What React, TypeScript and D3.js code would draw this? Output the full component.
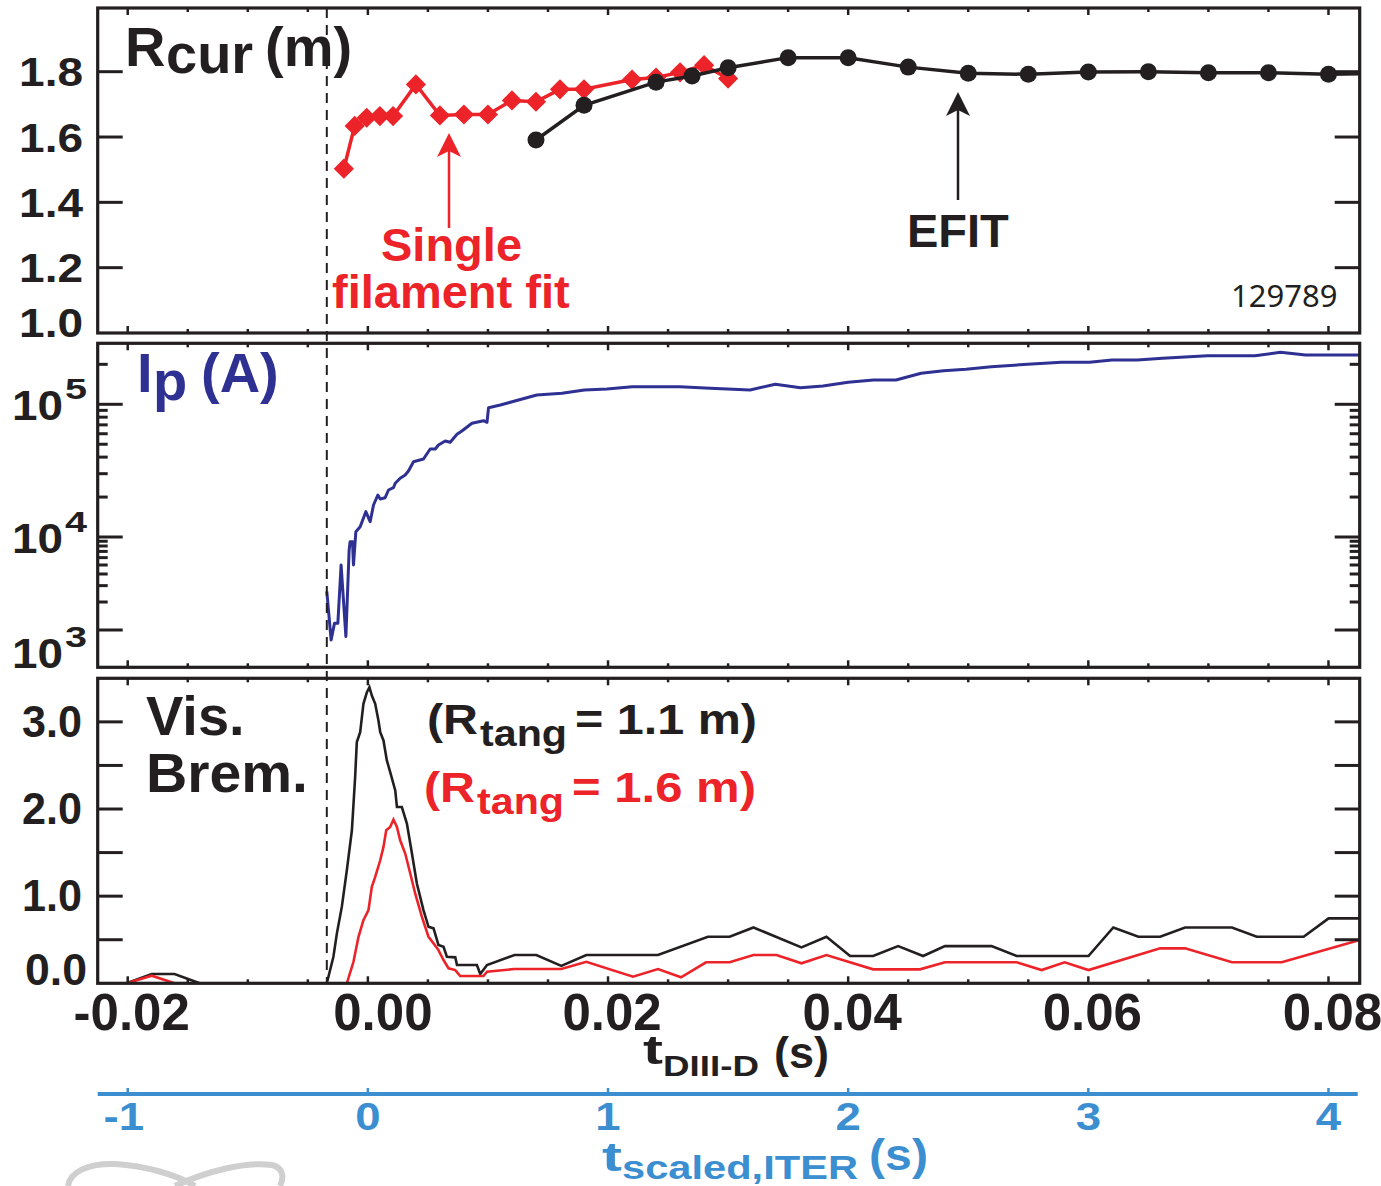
import React from "react";
import * as d3 from "d3";

// ---- data (shot 129789) ----
const tRange = [-0.0225, 0.0826];
const tDashed = -0.00342;

// R_cur from EFIT (black) and single filament fit (red)
const efitT = [0.014, 0.018, 0.024, 0.027, 0.03, 0.035, 0.04, 0.045, 0.05, 0.055, 0.06, 0.065, 0.07, 0.075, 0.08, 0.085];
const efitR = [1.591, 1.697, 1.768, 1.787, 1.812, 1.843, 1.843, 1.814, 1.795, 1.792, 1.799, 1.8, 1.797, 1.797, 1.792, 1.795];
const filT = [-0.002, -0.0011, -0.0001, 0.001, 0.0021, 0.004, 0.006, 0.008, 0.01, 0.012, 0.014, 0.016, 0.018, 0.022, 0.024, 0.026, 0.028, 0.03];
const filR = [1.503, 1.634, 1.659, 1.664, 1.664, 1.761, 1.666, 1.669, 1.669, 1.712, 1.708, 1.746, 1.746, 1.776, 1.782, 1.798, 1.82, 1.779];

// plasma current Ip (A)
const ipT = [
  -0.00342, -0.00306, -0.00278, -0.0025, -0.00223, -0.00183, -0.00156, -0.00148, -0.00128, -0.0012,
  -0.001, -0.00064, -0.00017, 0.00019, 0.00047, 0.00083, 0.00103, 0.00144, 0.00172, 0.00213,
  0.00228, 0.00269, 0.00311, 0.00338, 0.0038, 0.00463, 0.00519, 0.00561, 0.00588, 0.00644,
  0.00686, 0.00742, 0.00783, 0.00867, 0.00963, 0.00992, 0.01005, 0.01103, 0.01407, 0.01617,
  0.01803, 0.01991, 0.02201, 0.02598, 0.0285, 0.03183, 0.03393, 0.03603, 0.0379, 0.04,
  0.04211, 0.04398, 0.04608, 0.04794, 0.04982, 0.05192, 0.05494, 0.05777, 0.0601, 0.06197,
  0.06408, 0.06618, 0.06992, 0.07388, 0.076, 0.07809, 0.0826,
];
const ipA = [
  2600, 780, 1180, 1180, 5000, 850, 7250, 8900, 8900, 5000,
  10960, 11960, 15520, 13040, 17420, 20720, 19330, 19770, 22600, 23520,
  25400, 27700, 29310, 31440, 36940, 38700, 46030, 46030, 49340, 52900,
  51710, 59400, 62900, 71900, 75230, 73160, 94270, 98800, 117500, 121000,
  128200, 130400, 135700, 135700, 132000, 128200, 141500, 133400, 137400, 146500,
  152400, 152400, 171300, 179200, 183600, 192000, 200200, 207300, 207300, 215700,
  215700, 222200, 232400, 232400, 246500, 235200, 235200,
];

// visible bremsstrahlung, R_tang = 1.1 m (black) and 1.6 m (red)
const brem11T = [
  -0.0225, -0.0201, -0.018, -0.0161, -0.014, -0.00342, -0.00287, -0.00258, -0.00217, -0.00175,
  -0.00133, -0.00106, -0.00092, -0.00064, -0.00037, -0.00008, 0.00013, 0.00033, 0.00061, 0.00088,
  0.00103, 0.0013, 0.00158, 0.00186, 0.00228, 0.00242, 0.00283, 0.00325, 0.00367, 0.00408,
  0.00463, 0.00505, 0.00547, 0.00588, 0.0063, 0.00658, 0.00728, 0.00742, 0.00908, 0.00936,
  0.00992, 0.01221, 0.01403, 0.01611, 0.01819, 0.02416, 0.02832, 0.03013, 0.03211, 0.03611,
  0.03819, 0.04016, 0.04208, 0.04416, 0.04624, 0.04806, 0.05194, 0.05403, 0.06001, 0.06208,
  0.06417, 0.06598, 0.06806, 0.07196, 0.07403, 0.07793, 0.08001, 0.0826,
];
const brem11 = [
  0, 0, 0.107, 0.107, 0, 0, 0.305, 0.573, 0.877, 1.298,
  1.756, 2.367, 2.768, 2.882, 3.207, 3.34, 3.397, 3.302, 3.207, 3.016,
  2.882, 2.787, 2.558, 2.424, 2.214, 2.023, 2.023, 1.833, 1.489, 1.145,
  0.84, 0.648, 0.63, 0.439, 0.419, 0.305, 0.298, 0.21, 0.21, 0.107,
  0.21, 0.324, 0.324, 0.2, 0.324, 0.324, 0.534, 0.534, 0.641, 0.412,
  0.534, 0.313, 0.313, 0.427, 0.313, 0.427, 0.427, 0.313, 0.313, 0.641,
  0.534, 0.534, 0.641, 0.641, 0.534, 0.534, 0.745, 0.745,
];
const brem16T = [
  -0.0225, -0.0201, -0.018, -0.0161, -0.00175, -0.0012, -0.00078, -0.00037, 0.00005, 0.00033,
  0.00061, 0.00103, 0.0013, 0.00153, 0.00186, 0.00213, 0.00242, 0.00269, 0.00311, 0.00353,
  0.00394, 0.0045, 0.00505, 0.00547, 0.00588, 0.0063, 0.00672, 0.00728, 0.00769, 0.00963,
  0.00992, 0.01221, 0.01611, 0.01819, 0.02208, 0.02416, 0.02608, 0.02816, 0.03013, 0.03211,
  0.03403, 0.03611, 0.03819, 0.04208, 0.04598, 0.04806, 0.05403, 0.05611, 0.05803, 0.06001,
  0.06598, 0.06806, 0.07196, 0.07611, 0.0826,
];
const brem16 = [
  0, 0, 0.087, 0, 0, 0.247, 0.534, 0.725, 0.84, 1.107,
  1.221, 1.412, 1.565, 1.756, 1.794, 1.879, 1.794, 1.641, 1.489, 1.26,
  1.031, 0.763, 0.534, 0.458, 0.381, 0.267, 0.172, 0.152, 0.084, 0.084,
  0.133, 0.164, 0.164, 0.247, 0.076, 0.164, 0.069, 0.241, 0.241, 0.324,
  0.324, 0.229, 0.324, 0.16, 0.16, 0.241, 0.241, 0.152, 0.241, 0.152,
  0.401, 0.401, 0.241, 0.241, 0.496,
];

// tick values
const tMajor = [-0.02, 0, 0.02, 0.04, 0.06, 0.08];
const tLabels = ["-0.02", "0.00", "0.02", "0.04", "0.06", "0.08"];
const iterTicks = [-1, 0, 1, 2, 3, 4];
const rTicks = [1.0, 1.2, 1.4, 1.6, 1.8];
const ipMajor = [1e3, 1e4, 1e5];
const ipSup = ["3", "4", "5"];
const ipMinor = [2e3, 3e3, 4e3, 5e3, 6e3, 7e3, 8e3, 9e3, 2e4, 3e4, 4e4, 5e4, 6e4, 7e4, 8e4, 9e4, 2e5];
const bremTicks = [0.5, 1.0, 1.5, 2.0, 2.5, 3.0];
const bremLabels = [0, 1, 2, 3];

// ---- layout ----
const W = 1381;
const H = 1186;
const X0 = 97.7;
const X1 = 1359.7;
const P1 = [8, 333];
const P2 = [343.3, 667.3];
const P3 = [678.3, 983.3];

const INK = "#231f20";
const RED = "#ec2329";
const BLUE = "#2e3192";
const SKY = "#3b8ed0";
const FONT = "'Liberation Sans', Arial, Helvetica, sans-serif";

const x = d3.scaleLinear().domain(tRange).range([X0, X1]);
const xIter = d3.scaleLinear().domain(tRange.map((d) => d * 50)).range([X0, X1]);
const yR = d3.scaleLinear().domain([1.0, 1.995]).range([P1[1], P1[0]]);
const yIp = d3.scaleLog().domain([397, 1e3, 1e4, 1e5, 2.88e5]).range([P2[1], 630, 537, 404.3, P2[0]]);
const yB = d3.scaleLinear().domain([0, 3.5]).range([P3[1], P3[0]]);

const minorT = x.ticks(20);
const isMajor = (v: number) => Math.abs(Math.round(v / 0.02) * 0.02 - v) < 1e-9;

function XTicks({ top, bottom }: { top: number; bottom: number }) {
  return (
    <g stroke={INK} strokeWidth={2.5}>
      {minorT.map((v, i) => {
        const len = isMajor(v) ? 7 : 4;
        return (
          <g key={i}>
            <line x1={x(v)} x2={x(v)} y1={top} y2={top + len} />
            <line x1={x(v)} x2={x(v)} y1={bottom} y2={bottom - len} />
          </g>
        );
      })}
    </g>
  );
}

function YTicks({ ys, len }: { ys: number[]; len: number }) {
  return (
    <g stroke={INK} strokeWidth={3}>
      {ys.map((y, i) => (
        <g key={i}>
          <line x1={X0} x2={X0 + len} y1={y} y2={y} />
          <line x1={X1} x2={X1 - len} y1={y} y2={y} />
        </g>
      ))}
    </g>
  );
}

function Frame({ p }: { p: number[] }) {
  return <rect x={X0} y={p[0]} width={X1 - X0} height={p[1] - p[0]} fill="none" stroke={INK} strokeWidth={3.2} />;
}

function Arrow({ ax, tip, tail, color }: { ax: number; tip: number; tail: number; color: string }) {
  return (
    <g>
      <line x1={ax} x2={ax} y1={tip + 14} y2={tail} stroke={color} strokeWidth={2.5} />
      <path d={`M${ax},${tip} L${ax - 12},${tip + 24} L${ax},${tip + 18} L${ax + 12},${tip + 24} Z`} fill={color} />
    </g>
  );
}

export default function App() {
  const lineR = d3.line<number>().x((_, i) => x(filT[i])).y((d) => yR(d));
  const lineE = d3.line<number>().x((_, i) => x(efitT[i])).y((d) => yR(d));
  const lineIp = d3.line<number>().x((_, i) => x(ipT[i])).y((d) => yIp(d));
  const lineB11 = d3.line<number>().x((_, i) => x(brem11T[i])).y((d) => yB(d));
  const lineB16 = d3.line<number>().x((_, i) => x(brem16T[i])).y((d) => yB(d));
  const diamond = d3.symbol().type(d3.symbolDiamond2).size(260)();

  return (
    <svg
      width={W}
      height={H}
      style={{ position: "absolute", left: 0, top: 0, background: "#fff" }}
      fontFamily={FONT}
      fontWeight="bold"
    >
      <defs>
        <clipPath id="c1">
          <rect x={X0} y={P1[0]} width={X1 - X0} height={P1[1] - P1[0]} />
        </clipPath>
        <clipPath id="c3">
          <rect x={X0} y={P3[0]} width={X1 - X0} height={P3[1] - P3[0]} />
        </clipPath>
      </defs>
      <rect width={W} height={H} fill="#fff" />

      {/* ---------- panel 1: R_cur ---------- */}
      <g clipPath="url(#c1)">
        <path d={lineR(filR) || ""} fill="none" stroke={RED} strokeWidth={3.5} />
        {filR.map((d, i) => (
          <path key={i} d={diamond || ""} transform={`translate(${x(filT[i])},${yR(d)})`} fill={RED} />
        ))}
        <path d={lineE(efitR) || ""} fill="none" stroke={INK} strokeWidth={3.5} />
        {efitR.map((d, i) => (
          <circle key={i} cx={x(efitT[i])} cy={yR(d)} r={8.5} fill={INK} />
        ))}
      </g>
      <YTicks ys={rTicks.slice(1).map((v) => yR(v))} len={25} />
      <XTicks top={P1[0]} bottom={P1[1]} />
      <Frame p={P1} />
      {rTicks.map((v, i) => (
        <text
          key={i}
          transform={`translate(83,${Math.min(yR(v), 322) + 14.5}) scale(1.15,1)`}
          textAnchor="end"
          fontSize={40}
          fill={INK}
        >
          {v.toFixed(1)}
        </text>
      ))}
      <text x={125} y={66} fontSize={56} fill={INK}>R</text>
      <text x={166} y={73} fontSize={56} fill={INK}>cur</text>
      <text x={265} y={66} fontSize={56} fill={INK}>(m)</text>
      <Arrow ax={449} tip={133} tail={228} color={RED} />
      <text x={381} y={261} fontSize={47} fill={RED}>Single</text>
      <text x={332} y={308} fontSize={47} fill={RED}>filament fit</text>
      <Arrow ax={958} tip={92} tail={200} color={INK} />
      <text x={907} y={247} fontSize={47} fill={INK}>EFIT</text>
      <text x={1231} y={307} fontSize={31} fontWeight="normal" fontFamily="'Noto Sans', 'Open Sans', sans-serif" fill={INK}>
        129789
      </text>

      {/* ---------- panel 2: Ip ---------- */}
      <path d={lineIp(ipA) || ""} fill="none" stroke={BLUE} strokeWidth={3} strokeLinejoin="round" />
      <YTicks ys={ipMajor.map((v) => yIp(v))} len={25} />
      <YTicks ys={ipMinor.map((v) => yIp(v))} len={10} />
      <XTicks top={P2[0]} bottom={P2[1]} />
      <Frame p={P2} />
      {ipMajor.map((v, i) => {
        const base = yIp(v) + (v === 1e3 ? 38 : 16);
        return (
          <g key={i} fill={INK}>
            <text x={12} y={base} fontSize={42} textLength={51} lengthAdjust="spacingAndGlyphs">10</text>
            <text x={65} y={base - 21} fontSize={29} textLength={22} lengthAdjust="spacingAndGlyphs">{ipSup[i]}</text>
          </g>
        );
      })}
      <text x={137} y={392} fontSize={56} fill={BLUE}>I</text>
      <text x={153} y={400} fontSize={56} fill={BLUE}>p</text>
      <text x={201} y={392} fontSize={56} fill={BLUE}>(A)</text>

      {/* ---------- panel 3: visible bremsstrahlung ---------- */}
      <g clipPath="url(#c3)">
        <path d={lineB11(brem11) || ""} fill="none" stroke={INK} strokeWidth={2.6} />
        <path d={lineB16(brem16) || ""} fill="none" stroke={RED} strokeWidth={2.6} />
      </g>
      <YTicks ys={bremTicks.map((v) => yB(v))} len={25} />
      <XTicks top={P3[0]} bottom={P3[1]} />
      <Frame p={P3} />
      {bremLabels.map((v, i) => (
        <text
          key={i}
          x={v === 0 ? 87 : 82}
          y={Math.min(yB(v), 970) + 15}
          textAnchor="end"
          fontSize={44}
          textLength={v === 0 ? 62 : 60}
          lengthAdjust="spacingAndGlyphs"
          fill={INK}
        >
          {v.toFixed(1)}
        </text>
      ))}
      <text x={146} y={735} fontSize={56} fill={INK}>Vis.</text>
      <text x={146} y={792} fontSize={56} textLength={162} lengthAdjust="spacingAndGlyphs" fill={INK}>Brem.</text>
      <g fill={INK}>
        <text x={427} y={734} fontSize={43} textLength={51} lengthAdjust="spacingAndGlyphs">(R</text>
        <text x={480} y={746} fontSize={36} textLength={87} lengthAdjust="spacingAndGlyphs">tang</text>
        <text x={575} y={734} fontSize={43} textLength={182} lengthAdjust="spacingAndGlyphs">= 1.1 m)</text>
      </g>
      <g fill={RED}>
        <text x={424} y={802} fontSize={43} textLength={51} lengthAdjust="spacingAndGlyphs">(R</text>
        <text x={477} y={814} fontSize={36} textLength={87} lengthAdjust="spacingAndGlyphs">tang</text>
        <text x={572} y={802} fontSize={43} textLength={184} lengthAdjust="spacingAndGlyphs">= 1.6 m)</text>
      </g>

      {/* dashed line marking the start of the discharge */}
      <line x1={x(tDashed)} x2={x(tDashed)} y1={P1[0]} y2={P3[1]} stroke={INK} strokeWidth={2} strokeDasharray="10,7" />

      {/* ---------- DIII-D time axis ---------- */}
      {tMajor.map((v, i) => (
        <text key={i} x={x(v) + (v === 0 ? 15 : 4)} y={1030} fontSize={51} textAnchor="middle" fill={INK}>
          {tLabels[i]}
        </text>
      ))}
      <text x={643} y={1064} fontSize={40} textLength={20} lengthAdjust="spacingAndGlyphs" fill={INK}>t</text>
      <text x={663} y={1076} fontSize={30} textLength={96} lengthAdjust="spacingAndGlyphs" fill={INK}>DIII-D</text>
      <text x={774} y={1068} fontSize={44} textLength={55} lengthAdjust="spacingAndGlyphs" fill={INK}>(s)</text>

      {/* ---------- scaled ITER time axis ---------- */}
      <line x1={X0} x2={X1 - 2} y1={1094} y2={1094} stroke={SKY} strokeWidth={4} />
      {iterTicks.map((v, i) => (
        <g key={i} fill={SKY}>
          <line x1={xIter(v)} x2={xIter(v)} y1={1094} y2={1088} stroke={SKY} strokeWidth={2.5} />
          <text
            transform={`translate(${xIter(v) + (v < 0 ? -4 : 0)},1130) scale(1.2,1)`}
            fontSize={38}
            textAnchor="middle"
          >
            {v}
          </text>
        </g>
      ))}
      <text x={602} y={1171} fontSize={40} textLength={20} lengthAdjust="spacingAndGlyphs" fill={SKY}>t</text>
      <text x={622} y={1179} fontSize={34} textLength={236} lengthAdjust="spacingAndGlyphs" fill={SKY}>scaled,ITER</text>
      <text x={869} y={1170} fontSize={44} textLength={59} lengthAdjust="spacingAndGlyphs" fill={SKY}>(s)</text>

      {/* faint logo at the lower left */}
      <g fill="none" stroke="#cfcfcf" strokeWidth={6}>
        <path d="M68,1186 C70,1172 88,1163 115,1164 C145,1166 175,1174 195,1186" />
        <path d="M175,1186 C205,1172 245,1161 272,1165 C284,1168 284,1178 280,1186" />
      </g>
    </svg>
  );
}
